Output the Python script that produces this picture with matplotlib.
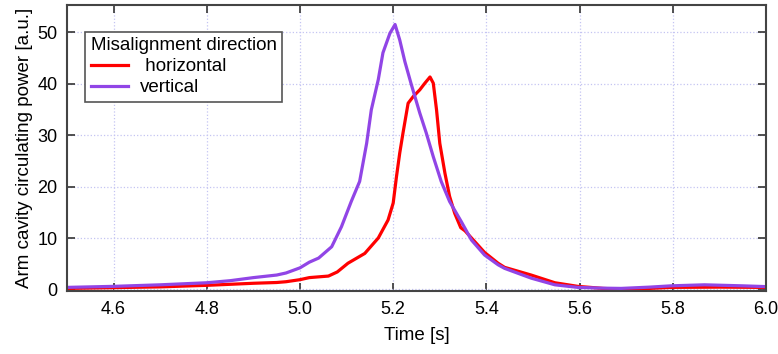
import matplotlib.pyplot as plt

plt.rcParams['font.family'] = ['Liberation Sans', 'DejaVu Sans']

# time [s] and power [a.u.]
t_vert = [4.50, 4.60, 4.70, 4.80, 4.85, 4.90, 4.95, 4.97, 5.00, 5.02, 5.04,
          5.068, 5.089, 5.11, 5.128, 5.143, 5.153, 5.168, 5.178, 5.193, 5.204,
          5.214, 5.225, 5.239, 5.257, 5.271, 5.286, 5.303, 5.321, 5.346, 5.368,
          5.396, 5.425, 5.439, 5.496, 5.547, 5.596, 5.65, 5.689, 5.75, 5.796,
          5.868, 5.95, 6.00]
p_vert = [0.4, 0.6, 0.9, 1.3, 1.7, 2.3, 2.8, 3.2, 4.2, 5.3, 6.1,
          8.3, 12.2, 17.1, 21.0, 28.4, 34.9, 40.8, 46.0, 49.8, 51.5,
          48.5, 44.3, 39.8, 34.3, 30.4, 25.8, 21.0, 17.1, 13.2, 9.6,
          6.7, 4.8, 4.1, 2.2, 0.9, 0.4, 0.25, 0.2, 0.45, 0.7,
          0.9, 0.7, 0.55]

t_horiz = [4.50, 4.60, 4.70, 4.80, 4.90, 4.95, 4.97, 5.00, 5.02, 5.061,
           5.08, 5.103, 5.139, 5.168, 5.189, 5.20, 5.207, 5.214, 5.221, 5.232,
           5.243, 5.257, 5.268, 5.279, 5.286, 5.293, 5.30, 5.311, 5.321, 5.332,
           5.345, 5.354, 5.364, 5.375, 5.396, 5.425, 5.439, 5.496, 5.547, 5.596,
           5.65, 5.689, 5.75, 5.796, 5.90, 6.00]
p_horiz = [0.2, 0.35, 0.5, 0.8, 1.2, 1.35, 1.5, 1.9, 2.3, 2.6,
           3.4, 5.1, 7.0, 10.0, 13.5, 16.8, 21.9, 26.5, 30.4, 36.2,
           37.5, 38.8, 40.1, 41.3, 40.1, 34.9, 28.4, 22.6, 18.1, 14.8,
           12.0, 11.4, 10.4, 9.3, 7.2, 5.1, 4.3, 2.8, 1.3, 0.6,
           0.2, 0.05, 0.2, 0.4, 0.45, 0.4]

xticks = [4.6, 4.8, 5.0, 5.2, 5.4, 5.6, 5.8, 6.0]
yticks = [0, 10, 20, 30, 40, 50]

fig = plt.figure(figsize=(7.78, 3.54), dpi=100)
ax = fig.add_axes([0.0861, 0.178, 0.8985, 0.808])

ax.plot(t_horiz, p_horiz, color='#ff0000', lw=2.3, label=' horizontal')
ax.plot(t_vert, p_vert, color='#9145e6', lw=2.3, label='vertical')

ax.set_xlim(4.5, 6.0)
ax.set_ylim(-0.3, 55.3)
ax.set_xticks(xticks)
ax.set_xticklabels([f'{v:.1f}' for v in xticks])
ax.set_yticks(yticks)
ax.grid(True, ls=':', color='#c4c4f2', lw=0.9)
ax.tick_params(direction='in', length=6, width=1.2, top=True, right=True,
               labelsize=13, color='#333333', pad=7)
for s in ax.spines.values():
    s.set_color('#444444')
    s.set_linewidth(1.5)

ax.set_xlabel('Time [s]', fontsize=13.5, labelpad=7)
ax.set_ylabel('Arm cavity circulating power [a.u.]', fontsize=13.5, labelpad=3)

leg = ax.legend(title='Misalignment direction', loc='upper left',
                bbox_to_anchor=(0.026, 0.906), borderaxespad=0, fontsize=13.5,
                title_fontsize=13.5, fancybox=False, framealpha=1,
                handlelength=2.0, handletextpad=0.6, borderpad=0.3,
                labelspacing=0.2)
leg.get_frame().set_edgecolor('#555555')
leg.get_frame().set_linewidth(1.2)
leg._legend_box.align = 'left'

fig.savefig('out.png', dpi=100)
